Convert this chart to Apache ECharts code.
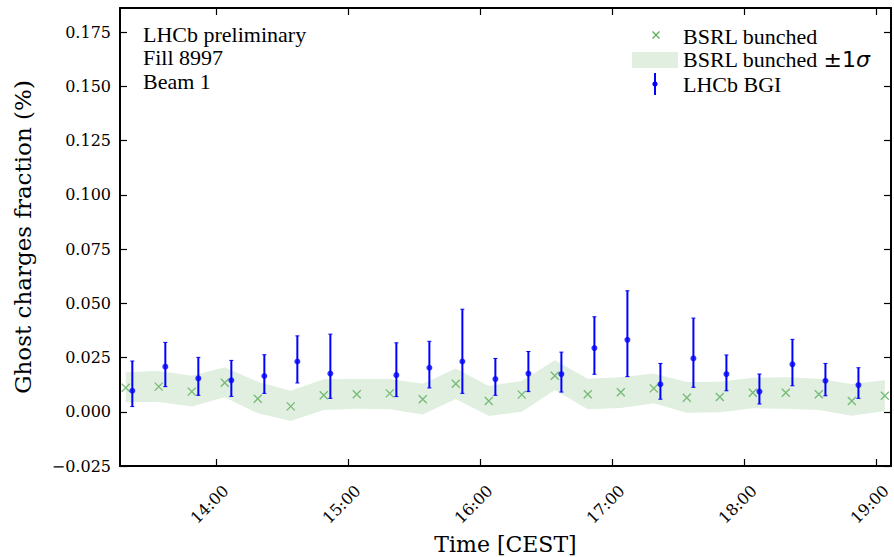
<!DOCTYPE html>
<html><head><meta charset="utf-8">
<script src="https://cdn.jsdelivr.net/npm/echarts@6/dist/echarts.min.js"></script>
<style>html,body{margin:0;padding:0;background:#fff}#c{width:894px;height:557px}</style>
</head><body><div id="c"></div>
<script>
// ---- data ----
const bsrlTimes = ['13:19','13:34','13:49','14:04','14:19','14:34','14:49','15:04','15:19','15:34','15:49','16:04',
  '16:19','16:34','16:49','17:04','17:19','17:34','17:49','18:04','18:19','18:34','18:49','19:04'];
const bsrlValues = [0.0111,0.0116,0.0093,0.0134,0.0060,0.0025,0.0076,0.0081,0.0085,0.0058,0.0129,0.0050,
  0.0079,0.0166,0.0081,0.0090,0.0108,0.0065,0.0068,0.0088,0.0088,0.0081,0.0050,0.0074];
const bandUpper = [0.0182,0.0188,0.0166,0.0205,0.0139,0.0097,0.0150,0.0151,0.0151,0.0129,0.0200,0.0119,
  0.0142,0.0238,0.0152,0.0159,0.0177,0.0137,0.0139,0.0157,0.0159,0.0152,0.0128,0.0146];
const bandLower = [0.0044,0.0045,0.0024,0.0067,-0.0007,-0.0042,0.0008,0.0014,0.0012,-0.0013,0.0059,-0.0019,
  0.0000,0.0100,0.0012,0.0018,0.0039,-0.0004,-0.0002,0.0016,0.0014,0.0008,-0.0018,0.0004];

const bgiTimes = ['13:22','13:37','13:52','14:07','14:22','14:37','14:52','15:22','15:37','15:52','16:07',
  '16:22','16:37','16:52','17:07','17:22','17:37','17:52','18:07','18:22','18:37','18:52'];
const bgiValues = [0.0097,0.0208,0.0154,0.0145,0.0165,0.0232,0.0176,0.0169,0.0203,0.0232,0.0151,
  0.0176,0.0174,0.0294,0.0332,0.0127,0.0246,0.0174,0.0093,0.0219,0.0143,0.0123];
const bgiUpper = [0.0234,0.0320,0.0251,0.0237,0.0263,0.0350,0.0358,0.0318,0.0325,0.0473,0.0246,
  0.0278,0.0275,0.0438,0.0558,0.0223,0.0432,0.0262,0.0174,0.0334,0.0223,0.0203];
const bgiLower = [0.0024,0.0116,0.0076,0.0071,0.0085,0.0133,0.0062,0.0070,0.0110,0.0085,0.0076,
  0.0093,0.0091,0.0173,0.0162,0.0058,0.0113,0.0097,0.0036,0.0120,0.0074,0.0062];

const xTickLabels = ['14:00','15:00','16:00','17:00','18:00','19:00'];
const yTickValues = [-0.025,0,0.025,0.05,0.075,0.1,0.125,0.15,0.175];
const annotationLines = ['LHCb preliminary','Fill 8997','Beam 1'];
const legendLabels = ['BSRL bunched','BSRL bunched ','±1','σ','LHCb BGI'];

// ---- helpers ----
function toMin(s){const p=s.split(':').map(Number);return p[0]*60+p[1];}
function fmtTime(v){const h=Math.floor(v/60),m=Math.round(v-h*60);return h+':'+(m<10?'0':'')+m;}
function fmtY(v){const s=Math.abs(v).toFixed(3);return (v<-1e-9?'\u2212':'')+s;}

const X_MIN = 796.4, X_MAX = 1146.8, Y_MIN = -0.025, Y_MAX = 0.1862;
const xTicks = xTickLabels.map(toMin);
const GREEN = '#5aac5a', BAND = '#e0efe0', BLUE = '#0000ff';
const serif = 'DejaVu Serif', tserif = 'Liberation Serif';

const chart = echarts.init(document.getElementById('c'), null, {renderer:'svg'});

const axisLine = {show:true, onZero:false, lineStyle:{color:'#000', width:2}};
const tickStyle = {color:'#000', width:1.2};

const option = {
  backgroundColor:'#fff',
  animation:false,
  grid:{left:120, right:3, top:8, bottom:91, outerBoundsMode:'none', containLabel:false},
  xAxis:[{
    type:'value', min:X_MIN, max:X_MAX, position:'bottom',
    axisLine:axisLine,
    axisTick:{show:true, inside:true, length:7, lineStyle:tickStyle, customValues:xTicks},
    axisLabel:{customValues:xTicks, formatter:fmtTime, rotate:45, align:'center', verticalAlign:'middle',
      margin:32, padding:[0,18,0,0], fontFamily:serif, fontSize:16, color:'#000'},
    splitLine:{show:false},
    name:'Time [CEST]', nameLocation:'middle', nameGap:62,
    nameTextStyle:{fontFamily:serif, fontSize:22, color:'#000'}
  },{
    type:'value', min:X_MIN, max:X_MAX, position:'top',
    axisLine:axisLine,
    axisTick:{show:true, inside:true, length:7, lineStyle:tickStyle, customValues:xTicks},
    axisLabel:{show:false}, splitLine:{show:false}
  }],
  yAxis:[{
    type:'value', min:Y_MIN, max:Y_MAX, position:'left',
    axisLine:axisLine,
    axisTick:{show:true, inside:true, length:7, lineStyle:tickStyle, customValues:yTickValues},
    axisLabel:{customValues:yTickValues, formatter:fmtY, margin:9, fontFamily:serif, fontSize:16, color:'#000'},
    splitLine:{show:false},
    name:'Ghost charges fraction (%)', nameLocation:'middle', nameGap:86,
    nameTextStyle:{fontFamily:serif, fontSize:23, color:'#000'}
  },{
    type:'value', min:Y_MIN, max:Y_MAX, position:'right',
    axisLine:axisLine,
    axisTick:{show:true, inside:true, length:7, lineStyle:tickStyle, customValues:yTickValues},
    axisLabel:{show:false}, splitLine:{show:false}
  }],
  series:[
    {
      name:'BSRL bunched ±1σ', type:'custom', silent:true, z:1,
      data:[[toMin(bsrlTimes[0]), bandLower[0]]],
      renderItem:function(params, api){
        const pts=[];
        for(let i=0;i<bsrlTimes.length;i++) pts.push(api.coord([toMin(bsrlTimes[i]), bandUpper[i]]));
        for(let i=bsrlTimes.length-1;i>=0;i--) pts.push(api.coord([toMin(bsrlTimes[i]), bandLower[i]]));
        return {type:'polygon', shape:{points:pts}, style:{fill:BAND, stroke:null}};
      }
    },
    {
      name:'BSRL bunched', type:'scatter', z:2, silent:true,
      data:bsrlTimes.map((t,i)=>[toMin(t), bsrlValues[i]]),
      symbol:'path://M0,0L10,10M10,0L0,10', symbolSize:8,
      itemStyle:{color:'none', borderColor:GREEN, borderWidth:1.3}
    },
    {
      name:'LHCb BGI err', type:'custom', z:3, silent:true,
      data:bgiTimes.map((t,i)=>[toMin(t), bgiLower[i], bgiUpper[i]]),
      renderItem:function(params, api){
        const lo=api.coord([api.value(0), api.value(1)]);
        const hi=api.coord([api.value(0), api.value(2)]);
        const st={stroke:BLUE, lineWidth:2};
        const cs={stroke:BLUE, lineWidth:1};
        return {type:'group', children:[
          {type:'line', shape:{x1:lo[0], y1:lo[1], x2:hi[0], y2:hi[1]}, style:st},
          {type:'line', shape:{x1:lo[0]-2, y1:lo[1], x2:lo[0]+2, y2:lo[1]}, style:cs},
          {type:'line', shape:{x1:hi[0]-2, y1:hi[1], x2:hi[0]+2, y2:hi[1]}, style:cs}
        ]};
      }
    },
    {
      name:'LHCb BGI', type:'scatter', z:4, silent:true,
      data:bgiTimes.map((t,i)=>[toMin(t), bgiValues[i]]),
      symbol:'circle', symbolSize:6,
      itemStyle:{color:BLUE}
    }
  ],
  graphic:[
    // annotation
    {type:'text', x:143, y:34, style:{text:annotationLines[0], fontFamily:tserif, fontSize:22, fill:'#000', verticalAlign:'middle'}},
    {type:'text', x:143, y:57.5, style:{text:annotationLines[1], fontFamily:tserif, fontSize:22, fill:'#000', verticalAlign:'middle'}},
    {type:'text', x:143, y:81, style:{text:annotationLines[2], fontFamily:tserif, fontSize:22, fill:'#000', verticalAlign:'middle'}},
    // legend icons
    {type:'line', shape:{x1:652.5, y1:31.5, x2:659.5, y2:38.5}, style:{stroke:GREEN, lineWidth:1.3}},
    {type:'line', shape:{x1:652.5, y1:38.5, x2:659.5, y2:31.5}, style:{stroke:GREEN, lineWidth:1.3}},
    {type:'rect', shape:{x:632, y:52, width:46, height:16}, style:{fill:BAND}},
    {type:'line', shape:{x1:655, y1:73, x2:655, y2:95}, style:{stroke:BLUE, lineWidth:2}},
    {type:'circle', shape:{cx:655, cy:84, r:2.6}, style:{fill:BLUE}},
    // legend texts
    {type:'text', x:683, y:36, style:{text:legendLabels[0], fontFamily:tserif, fontSize:22, fill:'#000', verticalAlign:'middle'}},
    {type:'text', x:683, y:59, style:{text:'{a|'+legendLabels[1]+'}{b|'+legendLabels[2]+'}{c|'+legendLabels[3]+'}', fill:'#000', verticalAlign:'middle',
      rich:{a:{fontFamily:tserif, fontSize:22, fill:'#000'}, b:{fontFamily:'DejaVu Sans', fontSize:22, fill:'#000'},
            c:{fontFamily:'DejaVu Sans', fontStyle:'italic', fontSize:22, fill:'#000'}}}},
    {type:'text', x:683, y:84, style:{text:legendLabels[4], fontFamily:tserif, fontSize:22, fill:'#000', verticalAlign:'middle'}}
  ]
};
chart.setOption(option);
</script>
</body></html>
